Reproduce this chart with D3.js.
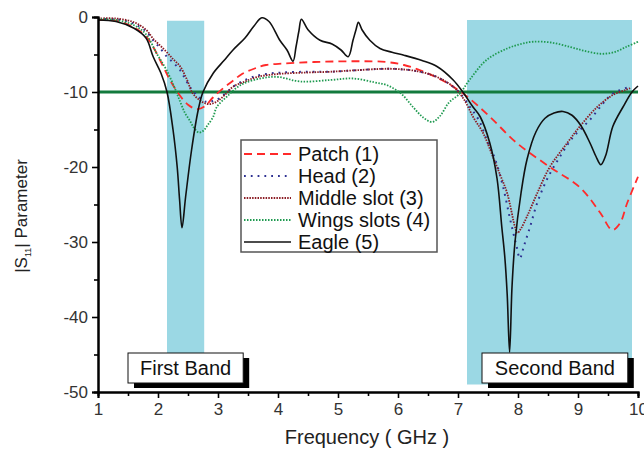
<!DOCTYPE html>
<html>
<head>
<meta charset="utf-8">
<script src="https://cdn.jsdelivr.net/npm/d3@7"></script>
<style>
  body { margin: 0; background: #fff; }
  text { font-family: "Liberation Sans", Arial, sans-serif; }
</style>
</head>
<body>
<div id="chart"></div>
<script>
// frequency (GHz) / |S11| (dB)
var eagleF = [1, 1.3, 1.6, 1.8, 1.92, 2.05, 2.15, 2.25, 2.32, 2.36, 2.4, 2.46, 2.56, 2.67, 2.75, 2.92, 3.1, 3.25, 3.45, 3.6, 3.73, 3.85, 4.03, 4.15, 4.25, 4.3, 4.35, 4.39, 4.5, 4.7, 4.9, 5.05, 5.17, 5.25, 5.3, 5.34, 5.4, 5.53, 5.7, 5.9, 6.1, 6.4, 6.65, 6.92, 7.08, 7.25, 7.37, 7.53, 7.65, 7.73, 7.78, 7.82, 7.86, 7.9, 7.95, 8.05, 8.15, 8.3, 8.45, 8.6, 8.75, 8.9, 9.05, 9.2, 9.3, 9.38, 9.46, 9.58, 9.75, 9.9, 10]
var eagleV = [-0.4, -0.6, -1.5, -2.8, -5.3, -7.5, -10, -15, -20, -24.4, -28.1, -24, -17.7, -12.4, -10, -7.5, -5.8, -4.4, -2.8, -1.2, -0.1, -0.6, -3.1, -4.4, -5.9, -4, -1.8, -0.3, -1.7, -3.1, -3.6, -4.4, -5.3, -3.1, -1.7, -0.7, -1.7, -3.1, -4.2, -4.7, -5.1, -5.8, -6.6, -8.4, -10, -12, -13.3, -16.8, -21.5, -28, -32, -37, -44.7, -36, -30, -23.5, -19, -15.3, -13.5, -12.8, -12.6, -13.1, -14.5, -16.8, -18.6, -19.7, -18.5, -14.6, -12, -10, -9.2]

var patchF = [1, 1.3, 1.6, 1.8, 1.92, 2.05, 2.2, 2.35, 2.5, 2.65, 2.78, 2.92, 3.1, 3.25, 3.4, 3.6, 3.8, 4.1, 4.6, 5.3, 5.8, 6.1, 6.37, 6.6, 6.82, 7.15, 7.53, 7.98, 8.53, 9.03, 9.37, 9.57, 9.7, 9.82, 10]
var patchV = [-0.4, -0.5, -1.4, -2.6, -4, -6, -8.4, -10.3, -11.7, -12.3, -11.9, -10.7, -9.4, -8.5, -7.6, -6.9, -6.4, -6.2, -6, -5.9, -6, -6.4, -7.1, -7.9, -8.8, -10.6, -13.3, -16.8, -20, -22.7, -26.1, -28.4, -27.5, -24.8, -21.3]

var headF = [1, 1.3, 1.6, 1.8, 1.92, 2.05, 2.15, 2.27, 2.37, 2.45, 2.53, 2.62, 2.7, 2.8, 2.92, 3.03, 3.15, 3.25, 3.4, 3.58, 3.8, 4.08, 4.5, 4.87, 5.3, 5.82, 6.1, 6.37, 6.65, 6.92, 7.05, 7.2, 7.35, 7.5, 7.62, 7.75, 7.87, 7.98, 8.03, 8.1, 8.2, 8.32, 8.48, 8.7, 8.92, 9.2, 9.42, 9.58, 9.87]
var headV = [-0.3, -0.3, -0.9, -1.9, -3.1, -4.3, -5.3, -6.2, -7.1, -8.2, -9.3, -10.2, -10.8, -11.3, -11.2, -10.8, -10, -9.3, -8.6, -8, -7.6, -7.4, -7.3, -7.3, -7.1, -6.9, -7, -7.3, -8, -9.3, -10.3, -12, -13.8, -16.8, -19, -22.6, -27, -30.7, -32.2, -30.5, -28, -24.8, -21.7, -18.6, -16, -13.7, -11.5, -10.2, -9.3]

var middleF = [1, 1.3, 1.6, 1.8, 1.92, 2.1, 2.25, 2.37, 2.48, 2.58, 2.7, 2.82, 2.92, 3.03, 3.15, 3.25, 3.45, 3.65, 4.0, 4.5, 4.87, 5.3, 5.82, 6.1, 6.37, 6.65, 6.92, 7.1, 7.25, 7.42, 7.58, 7.7, 7.82, 7.95, 7.99, 8.05, 8.15, 8.32, 8.53, 8.82, 9.03, 9.32, 9.58, 9.8, 9.87]
var middleV = [-0.2, -0.2, -0.7, -1.7, -2.9, -4.3, -5.6, -6.6, -8.3, -10.2, -11.1, -11.6, -11.5, -11, -10.1, -9.3, -8.6, -8, -7.6, -7.4, -7.3, -7.1, -6.9, -7, -7.3, -8, -9.3, -11, -13.3, -15.5, -18.6, -21, -23.5, -28, -28.8, -28.2, -26.6, -23.5, -20, -16.8, -14.6, -12, -10.4, -9.7, -9.5]

var wingsF = [1, 1.3, 1.6, 1.8, 1.98, 2.05, 2.15, 2.27, 2.37, 2.45, 2.53, 2.6, 2.68, 2.75, 2.82, 2.92, 2.98, 3.15, 3.37, 3.7, 4.0, 4.37, 4.87, 5.25, 5.6, 5.82, 6.05, 6.25, 6.42, 6.57, 6.7, 6.85, 7.03, 7.2, 7.48, 7.82, 8.05, 8.25, 8.55, 8.87, 9.1, 9.37, 9.6, 9.8, 10]
var wingsV = [-0.3, -0.4, -1.1, -2.3, -4.9, -5.8, -7.2, -9.3, -11.3, -12.8, -13.8, -14.8, -15.4, -15.2, -14.5, -13.3, -12, -10.6, -9.1, -8.2, -8, -8.6, -8.4, -8.2, -8.7, -9.1, -10.2, -12, -13.4, -14, -13.2, -11.4, -10.2, -8.3, -5.7, -4.2, -3.6, -3.3, -3.4, -4, -4.5, -4.9, -4.7, -4, -3.3]

var seriesNames = ["Patch (1)", "Head (2)", "Middle slot (3)", "Wings slots (4)", "Eagle (5)"]
var xTicks = [1, 2, 3, 4, 5, 6, 7, 8, 9, 10]
var yTicks = [0, -10, -20, -30, -40, -50]
var bands = [[2.15, 2.77, -0.5, -48], [7.15, 9.9, -0.4, -49]]
var bandLabels = ["First Band", "Second Band"]
var bandLabelPos = [[1.5, 3.42], [7.4, 9.83]]   // left/right of each label box in GHz
var threshold = -10

var svg = d3.select("#chart").append("svg")
    .attr("width", 644)
    .attr("height", 451)

var mLeft = 98, mTop = 17, width = 540, height = 375

var xs = d3.scaleLinear().domain([1, 10]).range([mLeft, mLeft + width])
var ys = d3.scaleLinear().domain([0, -50]).range([mTop, mTop + height])

// shaded bands
svg.selectAll(".band")
    .data(bands)
    .enter()
    .append("rect")
    .attr("x", d => xs(d[0]))
    .attr("width", d => xs(d[1]) - xs(d[0]))
    .attr("y", d => ys(d[2]))
    .attr("height", d => ys(d[3]) - ys(d[2]))
    .style("fill", "#9bd8e4")

// -10 dB line
svg.append("line")
    .attr("x1", xs(1)).attr("x2", xs(10))
    .attr("y1", ys(threshold)).attr("y2", ys(threshold))
    .style("stroke", "#137a3d")
    .style("stroke-width", 3)

var styles = [
    {color: "#ff2a2a", dash: "8,5", w: 1.8},
    {color: "#2e3192", dash: "1.8,5", w: 2},
    {color: "#8b1c24", dash: "1.5,1.2", w: 1.8},
    {color: "#1f9a50", dash: "1.5,1.5", w: 1.8},
    {color: "#111111", dash: null, w: 1.6}
]
var allF = [patchF, headF, middleF, wingsF, eagleF]
var allV = [patchV, headV, middleV, wingsV, eagleV]

var line = d3.line()
    .x(d => xs(d[0]))
    .y(d => ys(d[1]))
    .curve(d3.curveCatmullRom.alpha(0.5))

allF.forEach(function(f, i) {
    var pts = f.map((x, j) => [x, allV[i][j]])
    svg.append("path")
        .datum(pts)
        .attr("d", line)
        .style("fill", "none")
        .style("stroke", styles[i].color)
        .style("stroke-width", styles[i].w)
        .style("stroke-dasharray", styles[i].dash)
})

// legend
var lg = svg.append("g").attr("transform", "translate(241,140)")
lg.append("rect")
    .attr("width", 196).attr("height", 112)
    .style("fill", "#fff")
    .style("stroke", "#555")
    .style("stroke-width", 1.5)
seriesNames.forEach(function(name, i) {
    lg.append("line")
        .attr("x1", 3).attr("x2", 50)
        .attr("y1", 14 + i * 22).attr("y2", 14 + i * 22)
        .style("stroke", styles[i].color)
        .style("stroke-width", styles[i].w)
        .style("stroke-dasharray", styles[i].dash)
    lg.append("text")
        .attr("x", 57).attr("y", 14 + i * 22)
        .attr("dy", "0.36em")
        .style("font-size", "20px")
        .style("fill", "#111")
        .text(name)
})

// band labels with drop shadow
bandLabels.forEach(function(lbl, i) {
    var x0 = xs(bandLabelPos[i][0]), x1 = xs(bandLabelPos[i][1])
    var y0 = ys(-44.8), y1 = ys(-48.8)
    svg.append("rect")
        .attr("x", x0 + 6).attr("y", y0 + 5)
        .attr("width", x1 - x0).attr("height", y1 - y0)
        .style("fill", "#000")
    svg.append("rect")
        .attr("x", x0).attr("y", y0)
        .attr("width", x1 - x0).attr("height", y1 - y0)
        .style("fill", "#fff")
        .style("stroke", "#111")
        .style("stroke-width", 1)
    svg.append("text")
        .attr("x", (x0 + x1) / 2).attr("y", (y0 + y1) / 2)
        .attr("dy", "0.36em")
        .attr("text-anchor", "middle")
        .style("font-size", "20px")
        .style("fill", "#111")
        .text(lbl)
})

// axes
svg.append("g")
    .attr("transform", "translate(0," + ys(-50) + ")")
    .call(d3.axisBottom(xs).tickValues(xTicks).tickSize(6).tickPadding(5).tickFormat(d => String(d)))
svg.append("g")
    .attr("transform", "translate(0," + ys(-50) + ")")
    .call(d3.axisBottom(xs).tickValues(d3.range(1.5, 10, 1)).tickSize(4).tickFormat(""))
svg.append("g")
    .attr("transform", "translate(" + xs(1) + ",0)")
    .call(d3.axisLeft(ys).tickValues(yTicks).tickSize(6).tickPadding(4).tickFormat(d => String(d)))
svg.append("g")
    .attr("transform", "translate(" + xs(1) + ",0)")
    .call(d3.axisLeft(ys).tickValues([-5, -15, -25, -35, -45]).tickSize(4).tickFormat(""))

svg.selectAll(".domain").style("stroke", "#000").style("stroke-width", 2)
svg.selectAll(".tick line").style("stroke", "#000").style("stroke-width", 1.6)
svg.selectAll(".tick text").style("font-size", "17px").style("fill", "#333")
    .style("font-family", "'Liberation Sans', Arial, sans-serif")

// axis titles
svg.append("text")
    .attr("x", 367).attr("y", 444)
    .attr("text-anchor", "middle")
    .style("font-size", "20px")
    .style("fill", "#222")
    .text("Frequency ( GHz )")

var yl = svg.append("text")
    .attr("transform", "translate(27,216) rotate(-90)")
    .attr("text-anchor", "middle")
    .style("font-size", "17px")
    .style("fill", "#222")
yl.append("tspan").text("|S")
yl.append("tspan").text("11").style("font-size", "9px").attr("dy", 4)
yl.append("tspan").text("| Parameter").attr("dy", -4)
</script>
</body>
</html>
